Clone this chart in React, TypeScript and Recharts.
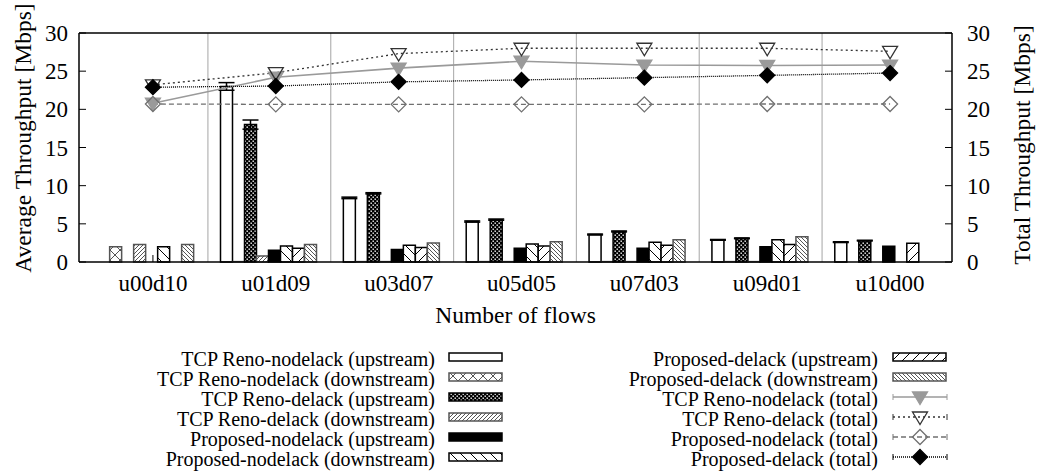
import React from "react";
import { ComposedChart, Bar, Line, XAxis, YAxis, ReferenceLine, ErrorBar } from "recharts";

const CATEGORIES = ["u00d10", "u01d09", "u03d07", "u05d05", "u07d03", "u09d01", "u10d00"];

// per-flow average throughput [Mbps]
const RENO_NODELACK_UP = [0, 23.0, 8.4, 5.3, 3.6, 2.9, 2.6];
const RENO_NODELACK_UP_ERR = [0, 0.5, 0.1, 0.08, 0.06, 0.05, 0.05];
const RENO_NODELACK_DOWN = [2.0, 0.05, 0.05, 0.05, 0.05, 0.05, 0];
const RENO_DELACK_UP = [0, 18.0, 9.0, 5.55, 4.0, 3.1, 2.8];
const RENO_DELACK_UP_ERR = [0, 0.6, 0.08, 0.08, 0.06, 0.05, 0.05];
const RENO_DELACK_DOWN = [2.3, 0.8, 0.05, 0.05, 0.05, 0.05, 0];
const PROP_NODELACK_UP = [0, 1.55, 1.65, 1.8, 1.8, 2.0, 2.05];
const PROP_NODELACK_DOWN = [2.0, 2.1, 2.2, 2.35, 2.6, 2.9, 0];
const PROP_DELACK_UP = [0, 1.8, 1.9, 2.1, 2.2, 2.3, 2.45];
const PROP_DELACK_DOWN = [2.3, 2.3, 2.5, 2.65, 2.9, 3.3, 0];

// total throughput [Mbps]
const RENO_NODELACK_TOTAL = [20.8, 24.2, 25.4, 26.3, 25.8, 25.75, 25.8];
const RENO_DELACK_TOTAL = [23.2, 24.8, 27.3, 28.0, 28.0, 28.0, 27.6];
const PROP_NODELACK_TOTAL = [20.7, 20.65, 20.65, 20.65, 20.65, 20.7, 20.7];
const PROP_DELACK_TOTAL = [22.9, 23.05, 23.6, 23.85, 24.15, 24.45, 24.75];

const Y_TICKS = [0, 5, 10, 15, 20, 25, 30];
const CAT_POS = CATEGORIES.map((_, i) => i);
// separators sit half a bar-slot left of each cluster boundary
const SEPARATORS = CATEGORIES.slice(1).map((_, i) => i + 0.447);

const data = CATEGORIES.map((name, i) => ({
  name,
  rnu: RENO_NODELACK_UP[i],
  rnuErr: RENO_NODELACK_UP_ERR[i],
  rnd: RENO_NODELACK_DOWN[i],
  rdu: RENO_DELACK_UP[i],
  rduErr: RENO_DELACK_UP_ERR[i],
  rdd: RENO_DELACK_DOWN[i],
  pnu: PROP_NODELACK_UP[i],
  pnd: PROP_NODELACK_DOWN[i],
  pdu: PROP_DELACK_UP[i],
  pdd: PROP_DELACK_DOWN[i],
  rnt: RENO_NODELACK_TOTAL[i],
  rdt: RENO_DELACK_TOTAL[i],
  pnt: PROP_NODELACK_TOTAL[i],
  pdt: PROP_DELACK_TOTAL[i],
}));

const FONT = "'Liberation Serif', 'Times New Roman', serif";
const GRAY = "#555";

const BARS = [
  { key: "rnu", err: "rnuErr", label: "TCP Reno-nodelack (upstream)", fill: "#fff", stroke: "#000" },
  { key: "rnd", label: "TCP Reno-nodelack (downstream)", fill: "url(#pCross)", stroke: GRAY },
  { key: "rdu", err: "rduErr", label: "TCP Reno-delack (upstream)", fill: "url(#pCheck)", stroke: "#000" },
  { key: "rdd", label: "TCP Reno-delack (downstream)", fill: "url(#pFineSlash)", stroke: GRAY },
  { key: "pnu", label: "Proposed-nodelack (upstream)", fill: "#000", stroke: "#000" },
  { key: "pnd", label: "Proposed-nodelack (downstream)", fill: "url(#pBack)", stroke: "#000" },
  { key: "pdu", label: "Proposed-delack (upstream)", fill: "url(#pSlash)", stroke: "#000" },
  { key: "pdd", label: "Proposed-delack (downstream)", fill: "url(#pFineBack)", stroke: GRAY },
];

type Marker = "triFilled" | "triOpen" | "diaOpen" | "diaFilled";

const LINES: { key: string; label: string; stroke: string; dash?: string; width: number; marker: Marker; mcolor: string }[] = [
  { key: "rnt", label: "TCP Reno-nodelack (total)", stroke: "#9a9a9a", width: 1.6, marker: "triFilled", mcolor: "#9a9a9a" },
  { key: "rdt", label: "TCP Reno-delack (total)", stroke: "#333", dash: "2 3", width: 1.3, marker: "triOpen", mcolor: "#333" },
  { key: "pnt", label: "Proposed-nodelack (total)", stroke: "#707070", dash: "5 3", width: 1.3, marker: "diaOpen", mcolor: "#707070" },
  { key: "pdt", label: "Proposed-delack (total)", stroke: "#000", dash: "1 1", width: 1.3, marker: "diaFilled", mcolor: "#000" },
];

function markerPath(m: Marker, cx: number, cy: number) {
  if (m === "triFilled" || m === "triOpen")
    return `M${cx - 7.5},${cy - 5}L${cx + 7.5},${cy - 5}L${cx},${cy + 7.5}Z`;
  return `M${cx},${cy - 7.5}L${cx + 7.5},${cy}L${cx},${cy + 7.5}L${cx - 7.5},${cy}Z`;
}

function MarkerShape({ m, color, cx, cy }: { m: Marker; color: string; cx: number; cy: number }) {
  const filled = m === "triFilled" || m === "diaFilled";
  return (
    <path d={markerPath(m, cx, cy)} fill={filled ? color : "none"} stroke={color} strokeWidth={1.3} />
  );
}

function slashPath(p: number) {
  return `M0,${p} L${p},0 M-1,1 L1,-1 M${p - 1},${p + 1} L${p + 1},${p - 1}`;
}
function backPath(p: number) {
  return `M0,0 L${p},${p} M${p - 1},-1 L${p + 1},1 M-1,${p - 1} L1,${p + 1}`;
}

function Patterns() {
  return (
    <defs>
      <pattern id="pCross" width="10" height="10" patternUnits="userSpaceOnUse">
        <rect width="10" height="10" fill="#fff" />
        <path d="M0,0 L10,10 M10,0 L0,10" stroke={GRAY} strokeWidth="1" />
      </pattern>
      <pattern id="pCheck" width="4" height="4" patternUnits="userSpaceOnUse">
        <rect width="4" height="4" fill="#000" />
        <rect x="0.5" y="0.5" width="1.4" height="1.4" fill="#fff" />
        <rect x="2.5" y="2.5" width="1.4" height="1.4" fill="#fff" />
      </pattern>
      <pattern id="pFineSlash" width="4" height="4" patternUnits="userSpaceOnUse">
        <rect width="4" height="4" fill="#fff" />
        <path d={slashPath(4)} stroke={GRAY} strokeWidth="1" />
      </pattern>
      <pattern id="pBack" width="10" height="10" patternUnits="userSpaceOnUse">
        <rect width="10" height="10" fill="#fff" />
        <path d={backPath(10)} stroke="#000" strokeWidth="1" />
      </pattern>
      <pattern id="pSlash" width="10" height="10" patternUnits="userSpaceOnUse">
        <rect width="10" height="10" fill="#fff" />
        <path d={slashPath(10)} stroke="#000" strokeWidth="1" />
      </pattern>
      <pattern id="pFineBack" width="4" height="4" patternUnits="userSpaceOnUse">
        <rect width="4" height="4" fill="#fff" />
        <path d={backPath(4)} stroke={GRAY} strokeWidth="1" />
      </pattern>
    </defs>
  );
}

const tickStyle = { fontSize: 23, fill: "#000", fontFamily: FONT };

function LeftTitle(props: any) {
  const vb = props.viewBox;
  const x = vb.x + 23;
  const y = 138;
  return (
    <text x={x} y={y} transform={`rotate(-90 ${x} ${y})`} textAnchor="middle" dominantBaseline="central"
      style={{ fontSize: 23.5, fontFamily: FONT, fill: "#000" }}>
      Average Throughput [Mbps]
    </text>
  );
}

function RightTitle(props: any) {
  const vb = props.viewBox;
  const x = vb.x + vb.width - 15;
  const y = 145;
  return (
    <text x={x} y={y} transform={`rotate(-90 ${x} ${y})`} textAnchor="middle" dominantBaseline="central"
      style={{ fontSize: 23.5, fontFamily: FONT, fill: "#000" }}>
      Total Throughput [Mbps]
    </text>
  );
}

function BarSwatch({ fill, stroke }: { fill: string; stroke: string }) {
  return (
    <svg width={56} height={12} style={{ position: "absolute", left: 0, top: 1 }}>
      <rect x={1} y={2} width={53} height={8} fill={fill} stroke={stroke} strokeWidth={1.5} />
    </svg>
  );
}

function LineSwatch({ s }: { s: (typeof LINES)[number] }) {
  return (
    <svg width={58} height={18} style={{ position: "absolute", left: 0, top: -2 }}>
      <line x1={1} y1={9} x2={55} y2={9} stroke={s.stroke} strokeWidth={s.width} strokeDasharray={s.dash} />
      <line x1={1} y1={6} x2={1} y2={12} stroke={s.stroke} strokeWidth={1} />
      <line x1={55} y1={6} x2={55} y2={12} stroke={s.stroke} strokeWidth={1} />
      <MarkerShape m={s.marker} color={s.mcolor} cx={28} cy={9} />
    </svg>
  );
}

function Legend() {
  const rowH = 20;
  const top0 = 349;
  const left = BARS.slice(0, 6);
  const rightBars = BARS.slice(6);
  const textStyle: React.CSSProperties = {
    position: "absolute",
    left: 0,
    textAlign: "right",
    fontSize: 20,
    lineHeight: `${rowH}px`,
    fontFamily: FONT,
    whiteSpace: "nowrap",
    color: "#000",
  };
  return (
    <>
      {left.map((b, i) => (
        <React.Fragment key={b.key}>
          <div style={{ ...textStyle, top: top0 + i * rowH, width: 435 }}>{b.label}</div>
          <div style={{ position: "absolute", left: 448, top: top0 + i * rowH + 1, width: 56, height: 12 }}>
            <BarSwatch fill={b.fill} stroke={b.stroke} />
          </div>
        </React.Fragment>
      ))}
      {rightBars.map((b, i) => (
        <React.Fragment key={b.key}>
          <div style={{ ...textStyle, top: top0 + i * rowH, width: 878 }}>{b.label}</div>
          <div style={{ position: "absolute", left: 892, top: top0 + i * rowH + 1, width: 56, height: 12 }}>
            <BarSwatch fill={b.fill} stroke={b.stroke} />
          </div>
        </React.Fragment>
      ))}
      {LINES.map((s, j) => {
        const i = j + 2;
        return (
          <React.Fragment key={s.key}>
            <div style={{ ...textStyle, top: top0 + i * rowH, width: 878 }}>{s.label}</div>
            <div style={{ position: "absolute", left: 892, top: top0 + i * rowH + 1, width: 58, height: 14 }}>
              <LineSwatch s={s} />
            </div>
          </React.Fragment>
        );
      })}
    </>
  );
}

export default function App() {
  const pad = { left: 12.5, right: 0.5 };
  return (
    <div style={{ position: "absolute", left: 0, top: 0, width: 1037, height: 471, background: "#fff", fontFamily: FONT }}>
      <ComposedChart
        width={1037}
        height={340}
        data={data}
        margin={{ top: 32, right: 0, bottom: 0, left: 0 }}
        barCategoryGap="5%"
        barGap={0}
      >
        <Patterns />
        <XAxis
          xAxisId="cat"
          dataKey="name"
          type="category"
          interval={0}
          height={78}
          padding={pad}
          tickSize={-7}
          tickMargin={20}
          tick={tickStyle}
          axisLine={{ stroke: "#000", strokeWidth: 1.5 }}
          tickLine={{ stroke: "#000" }}
          label={{ value: "Number of flows", position: "insideBottom", offset: 17, style: { fontSize: 23.5, fontFamily: FONT, fill: "#000" } }}
        />
        <XAxis
          xAxisId="top"
          orientation="top"
          type="number"
          domain={[0, CATEGORIES.length - 1]}
          allowDataOverflow
          ticks={CAT_POS}
          height={1}
          padding={{ left: 74, right: 62 }}
          tick={false}
          tickSize={-7}
          axisLine={{ stroke: "#000", strokeWidth: 1.5 }}
          tickLine={{ stroke: "#000" }}
        />
        <YAxis
          yAxisId="left"
          width={79}
          domain={[0, 30]}
          ticks={Y_TICKS}
          interval={0}
          tickSize={-7}
          tickMargin={18}
          tick={tickStyle}
          axisLine={{ stroke: "#000", strokeWidth: 1.5 }}
          tickLine={{ stroke: "#000" }}
          label={{ content: LeftTitle }}
        />
        <YAxis
          yAxisId="right"
          orientation="right"
          width={85}
          domain={[0, 30]}
          ticks={Y_TICKS}
          interval={0}
          tickSize={-7}
          tickMargin={22}
          tick={tickStyle}
          axisLine={{ stroke: "#000", strokeWidth: 1.5 }}
          tickLine={{ stroke: "#000" }}
          label={{ content: RightTitle }}
        />
        {SEPARATORS.map((x) => (
          <ReferenceLine key={x} x={x} xAxisId="top" yAxisId="left" stroke="#b4b4b4" strokeWidth={1.2} />
        ))}
        {BARS.map((b) => (
          <Bar
            key={b.key}
            dataKey={b.key}
            xAxisId="cat"
            yAxisId="left"
            fill={b.fill}
            stroke={b.stroke}
            strokeWidth={1.5}
            isAnimationActive={false}
          >
            {b.err ? <ErrorBar dataKey={b.err} width={8} stroke="#000" strokeWidth={1.5} direction="y" /> : null}
          </Bar>
        ))}
        {/* empty slot closing each cluster, as in the original layout */}
        <Bar dataKey="gap" xAxisId="cat" yAxisId="left" fill="none" isAnimationActive={false} />
        {LINES.map((s) => (
          <Line
            key={s.key}
            dataKey={s.key}
            xAxisId="cat"
            yAxisId="right"
            stroke={s.stroke}
            strokeWidth={s.width}
            strokeDasharray={s.dash}
            isAnimationActive={false}
            activeDot={false}
            dot={(p: any) => <MarkerShape key={p.index} m={s.marker} color={s.mcolor} cx={p.cx} cy={p.cy} />}
          />
        ))}
      </ComposedChart>
      <Legend />
    </div>
  );
}
